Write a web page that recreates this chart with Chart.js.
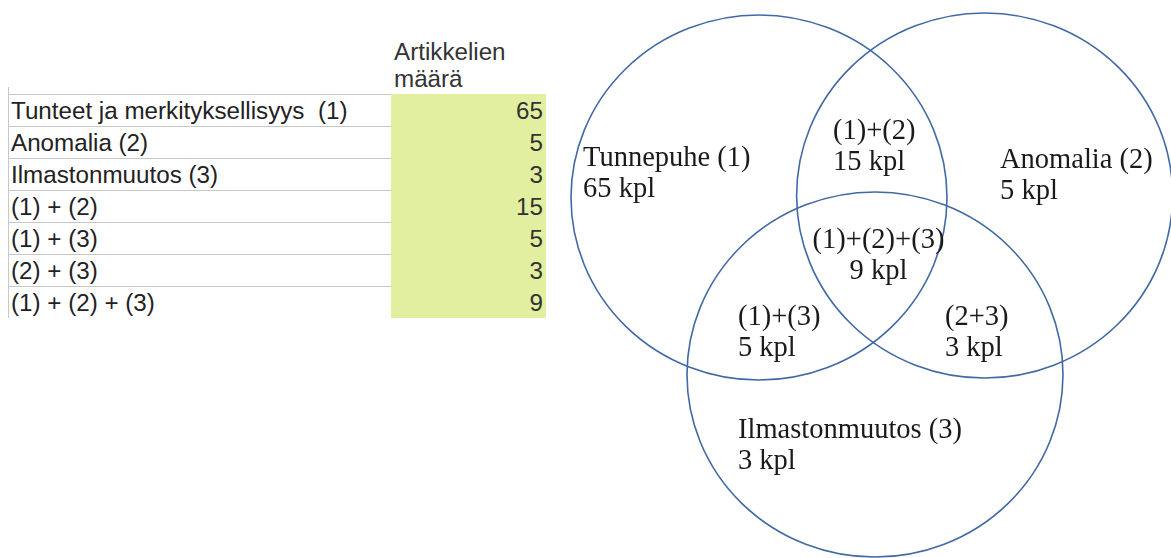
<!DOCTYPE html>
<html>
<head>
<meta charset="utf-8">
<script src="https://cdn.jsdelivr.net/npm/chart.js@4/dist/chart.umd.min.js"></script>
<style>
  html, body { margin:0; padding:0; background:#fff; width:1171px; height:558px; overflow:hidden; }
  #tbl { position:absolute; left:0; top:0; width:560px; height:558px;
         font-family:"Liberation Sans", Arial, sans-serif; font-size:24.2px; color:#222; }
  #tbl div { position:absolute; white-space:pre; }
  #wrap { position:absolute; left:560px; top:0; width:611px; height:558px; }
</style>
</head>
<body>
<div id="tbl"></div>
<div id="wrap"><canvas id="c"></canvas></div>
<script>
// ---------- DATA ----------
const categories = ['Tunteet ja merkityksellisyys  (1)', 'Anomalia (2)', 'Ilmastonmuutos (3)',
                    '(1) + (2)', '(1) + (3)', '(2) + (3)', '(1) + (2) + (3)'];
const counts = [65, 5, 3, 15, 5, 3, 9];
const headerLines = ['Artikkelien', 'määrä'];
const vennNames = ['Tunnepuhe (1)', 'Anomalia (2)', 'Ilmastonmuutos (3)',
                   '(1)+(2)', '(1)+(3)', '(2+3)', '(1)+(2)+(3)'];
const unitLabel = 'kpl';

// ---------- LAYOUT (positions in Venn units, radius = 1) ----------
const circleCX = [0, 1.2, 0.617];
const circleCY = [0, 0.011, -0.97];
const labelAnchors = [
  {x:-0.936, y:0.1726, align:'left'},
  {x:1.282,  y:0.1616, align:'left'},
  {x:-0.1117,y:-1.3178,align:'left'},
  {x:0.394,  y:0.3205, align:'left'},
  {x:-0.1117,y:-0.6986,align:'left'},
  {x:0.989,  y:-0.6986,align:'left'},
  {x:0.6356, y:-0.2767,align:'center'}
];

// ---------- TABLE ----------
const tbl = document.getElementById('tbl');
function add(style, text) {
  const d = document.createElement('div');
  Object.assign(d.style, style);
  if (text !== undefined) d.textContent = text;
  tbl.appendChild(d);
  return d;
}
const rowTop = 94, rowH = 32;
// green value column
add({left:'391px', top:rowTop+'px', width:'155px', height:(rowH*categories.length)+'px', background:'#e2efa0'});
// left vertical border
add({left:'8px', top:'87px', width:'1px', height:(rowTop + rowH*categories.length - 87)+'px', background:'#c8c8c8'});
headerLines.forEach((t,i) => add({left:'394px', top:(37.5 + 27*i)+'px', lineHeight:'27px', color:'#333'}, t));
categories.forEach((c,i) => {
  const top = rowTop + rowH*i;
  add({left:'8px', top:top+'px', width:'383px', height:'1px', background:'#c8c8c8'});
  add({left:'11px', top:(top+0.5)+'px', lineHeight:rowH+'px'}, c);
  add({left:'391px', top:(top+0.5)+'px', width:'152px', textAlign:'right', lineHeight:rowH+'px', color:'#333'}, String(counts[i]));
});

// ---------- VENN (Chart.js) ----------
const vennPlugin = {
  id: 'venn',
  afterDatasetsDraw(chart) {
    const {ctx} = chart;
    const xs = chart.scales.x, ys = chart.scales.y;
    ctx.save();
    chart.data.datasets[0].data.forEach(p => {
      const cx = xs.getPixelForValue(p.x), cy = ys.getPixelForValue(p.y);
      const rx = Math.abs(xs.getPixelForValue(p.x + 1) - cx);
      const ry = Math.abs(ys.getPixelForValue(p.y + 1) - cy);
      ctx.beginPath();
      ctx.ellipse(cx, cy, rx, ry, 0, 0, Math.PI * 2);
      ctx.strokeStyle = '#4169a4';
      ctx.lineWidth = 1.6;
      ctx.stroke();
    });
    ctx.fillStyle = '#1a1a1a';
    ctx.font = '28.5px "Liberation Serif", "Times New Roman", serif';
    ctx.textBaseline = 'alphabetic';
    vennNames.forEach((name, i) => {
      const a = labelAnchors[i];
      const px = xs.getPixelForValue(a.x), py = ys.getPixelForValue(a.y);
      ctx.textAlign = a.align;
      ctx.fillText(name, px, py);
      ctx.fillText(counts[i] + ' ' + unitLabel, px, py + 31);
    });
    ctx.restore();
  }
};

new Chart(document.getElementById('c'), {
  type: 'scatter',
  data: {
    datasets: [{
      data: circleCX.map((x, i) => ({x, y: circleCY[i]})),
      pointRadius: 0,
      pointHoverRadius: 0
    }]
  },
  options: {
    responsive: true,
    maintainAspectRatio: false,
    animation: false,
    layout: { padding: 0 },
    plugins: { legend: {display:false}, tooltip: {enabled:false} },
    scales: {
      x: { type:'linear', display:false, min:-1.0585, max:2.1915 },
      y: { type:'linear', display:false, min:-1.9753, max:1.0822 }
    }
  },
  plugins: [vennPlugin]
});
</script>
</body>
</html>
